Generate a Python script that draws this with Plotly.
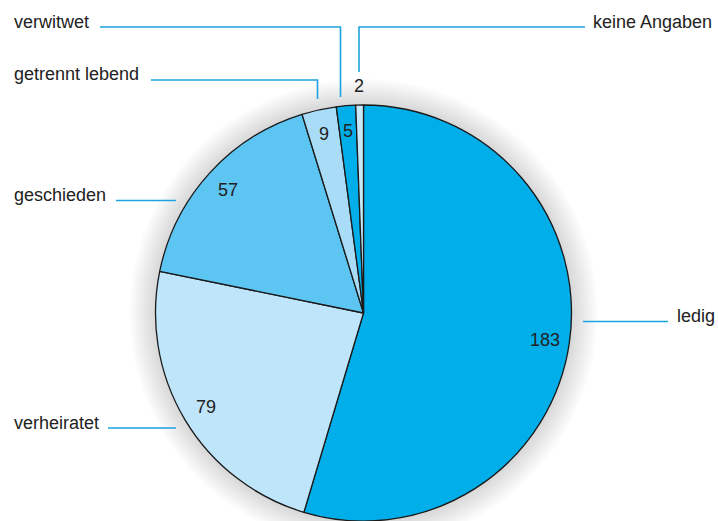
import math
import plotly.graph_objects as go

# Familienstand (Anzahl Personen)
categories = ["ledig", "verheiratet", "geschieden", "getrennt lebend", "verwitwet", "keine Angaben"]
counts = [183, 79, 57, 9, 5, 2]
slice_colors = ["#00AEEA", "#BEE5FA", "#5CC5F2", "#A9DDF7", "#00AEEA", "#C9E9FB"]

W, H = 718, 521
CX, CY, R = 363.5, 313.0, 208.0   # pie centre and radius in pixels
LINE = "#1DA2E0"
FONT = "Liberation Sans, Arial, Helvetica, sans-serif"


def px(x):
    return x / W


def py(y):
    return 1 - y / H


fig = go.Figure()

# soft glow around the pie
for k in range(1, 14):
    r = R + 2 * k
    fig.add_shape(type="circle", xref="paper", yref="paper", layer="below",
                  x0=px(CX - r), x1=px(CX + r), y0=py(CY + r), y1=py(CY - r),
                  line_width=0, fillcolor="rgba(0,0,0,0.012)")

fig.add_trace(go.Pie(
    labels=categories, values=counts, sort=False, direction="clockwise", rotation=0,
    marker=dict(colors=slice_colors, line=dict(color="#1a1a1a", width=1.3)),
    textinfo="none", hoverinfo="label+value", showlegend=False,
    domain=dict(x=[px(CX - R), px(CX + R)], y=[0, py(CY - R)]),
))

# value labels placed at each slice's mid-angle
total = sum(counts)
cum = 0
for cat, v in zip(categories, counts):
    mid = (cum + v / 2) / total * 2 * math.pi
    cum += v
    f = 1.09 if v / total < 0.01 else 0.88
    x = CX + math.sin(mid) * R * f
    y = CY - math.cos(mid) * R * f
    fig.add_annotation(x=px(x), y=py(y), xref="paper", yref="paper", text=str(v),
                       showarrow=False, font=dict(family=FONT, size=18, color="#222"),
                       xanchor="center", yanchor="middle")

# category labels with leader lines
labels_layout = [
    # text, text x, text y, anchor, leader path points
    ("verwitwet", 12, 22, "left", [(100, 27), (340.5, 27), (340.5, 97)]),
    ("getrennt lebend", 12, 74, "left", [(151, 80), (317.5, 80), (317.5, 99)]),
    ("keine Angaben", 591, 22, "left", [(585, 27), (359, 27), (359, 72)]),
    ("geschieden", 12, 195, "left", [(116, 200.5), (176, 200.5)]),
    ("verheiratet", 12, 423, "left", [(108, 428), (176, 428)]),
    ("ledig", 675, 316, "left", [(583, 321.5), (668, 321.5)]),
]
for text, tx, ty, anchor, pts in labels_layout:
    fig.add_annotation(x=px(tx), y=py(ty), xref="paper", yref="paper", text=text,
                       showarrow=False, font=dict(family=FONT, size=18, color="#222"),
                       xanchor=anchor, yanchor="middle")
    path = "M " + " L ".join(f"{px(x)},{py(y)}" for x, y in pts)
    fig.add_shape(type="path", xref="paper", yref="paper", path=path,
                  line=dict(color=LINE, width=1.6))

fig.update_layout(
    width=W, height=H,
    margin=dict(l=0, r=0, t=0, b=0),
    paper_bgcolor="white", plot_bgcolor="white",
)

fig.write_html("out.html")
